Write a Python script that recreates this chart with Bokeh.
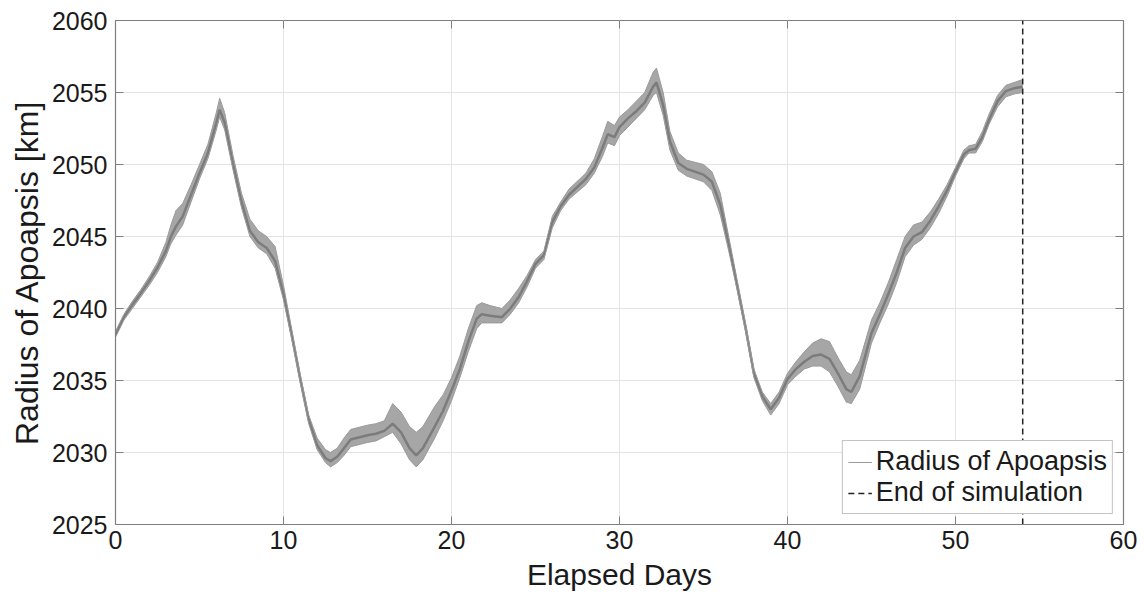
from bokeh.plotting import figure
from bokeh.models import Range1d, FixedTicker, Legend, LegendItem, LinearAxis
from bokeh.embed import file_html
from bokeh.resources import INLINE

days = [0, 0.5, 1, 1.5, 2, 2.5, 3, 3.3, 3.6, 4, 4.5, 5, 5.5, 6, 6.2, 6.5, 7, 7.5, 8, 8.5,
        9, 9.5, 10, 10.5, 11, 11.5, 12, 12.5, 12.8, 13.2, 13.6, 14, 15, 15.5, 16, 16.5, 17, 17.5, 17.9, 18.3,
        19, 19.5, 20, 20.5, 21, 21.5, 21.8, 22.3, 23, 23.5, 24, 24.5, 25, 25.5, 26, 26.5, 27, 28, 28.5, 29,
        29.3, 29.7, 30, 30.5, 31, 31.5, 32, 32.2, 32.6, 33, 33.5, 34, 35, 35.5, 36, 36.5, 37, 37.5, 38, 38.5,
        39, 39.5, 40, 40.5, 41, 41.5, 42, 42.5, 43, 43.5, 43.8, 44.3, 45, 45.5, 46, 46.5, 47, 47.5, 48, 48.5,
        49, 49.5, 50, 50.5, 50.8, 51.2, 51.6, 52, 52.5, 53, 53.5, 54]

apo_low = [2038.0, 2039.2, 2040.0, 2040.8, 2041.6, 2042.5, 2043.6, 2044.5, 2045.1, 2045.8, 2047.4, 2049.0, 2050.4, 2052.4, 2053.3, 2052.4, 2049.6, 2047.0, 2045.0, 2044.2,
           2043.8, 2042.8, 2040.6, 2037.8, 2034.8, 2032.0, 2030.2, 2029.3, 2029.0, 2029.3, 2029.8, 2030.4, 2030.7, 2030.8, 2031.1, 2031.4, 2030.6, 2029.5, 2029.0, 2029.5,
           2031.0, 2032.2, 2033.6, 2035.2, 2037.0, 2038.6, 2039.0, 2039.0, 2039.0, 2039.6, 2040.4, 2041.5, 2042.8, 2043.4, 2045.6, 2046.8, 2047.6, 2048.6, 2049.4, 2050.6,
           2051.5, 2051.3, 2052.0, 2052.6, 2053.2, 2053.8, 2054.8, 2055.0, 2053.4, 2051.0, 2049.6, 2049.2, 2048.8, 2048.2, 2046.5, 2044.0, 2041.3, 2038.4, 2035.2, 2033.6,
           2032.6, 2033.4, 2034.7, 2035.3, 2035.8, 2036.0, 2036.0, 2035.6, 2034.6, 2033.5, 2033.4, 2034.4, 2037.6, 2039.0, 2040.3, 2041.8, 2043.6, 2044.4, 2044.8, 2045.6,
           2046.6, 2047.8, 2049.2, 2050.4, 2050.8, 2050.8, 2051.6, 2052.8, 2054.0, 2054.7, 2054.9, 2055.0]

apo_high = [2038.4, 2039.6, 2040.5, 2041.3, 2042.2, 2043.2, 2044.6, 2045.8, 2046.8, 2047.3, 2048.6, 2050.0, 2051.4, 2053.6, 2054.6, 2053.6, 2050.6, 2048.0, 2046.2, 2045.4,
            2045.0, 2044.3, 2041.6, 2038.5, 2035.4, 2032.6, 2031.0, 2030.2, 2030.0, 2030.3, 2031.0, 2031.6, 2031.9, 2032.0, 2032.2, 2033.4, 2032.8, 2031.8, 2031.4, 2031.8,
            2033.2, 2034.0, 2035.2, 2036.7, 2038.6, 2040.2, 2040.4, 2040.2, 2040.0, 2040.6, 2041.4, 2042.3, 2043.4, 2044.0, 2046.4, 2047.4, 2048.3, 2049.4, 2050.4, 2052.0,
            2053.0, 2052.7, 2053.3, 2053.8, 2054.4, 2055.0, 2056.4, 2056.7, 2055.0, 2052.3, 2050.8, 2050.3, 2050.0, 2049.5, 2048.0, 2045.0, 2042.0, 2039.0, 2035.8, 2034.2,
            2033.4, 2034.2, 2035.5, 2036.3, 2037.0, 2037.6, 2037.9, 2037.7, 2036.6, 2035.6, 2035.4, 2036.4, 2039.2, 2040.4, 2041.8, 2043.4, 2045.0, 2045.8, 2046.0, 2046.7,
            2047.6, 2048.6, 2049.8, 2051.0, 2051.3, 2051.4, 2052.3, 2053.5, 2054.8, 2055.5, 2055.7, 2055.9]

apo_core = [2038.2, 2039.4, 2040.25, 2041.05, 2041.9, 2042.85, 2044.0, 2045.0, 2045.7, 2046.4, 2047.9, 2049.4, 2050.8, 2052.9, 2053.8, 2052.9, 2050.0, 2047.4, 2045.4, 2044.6,
            2044.2, 2043.3, 2041.0, 2038.1, 2035.1, 2032.3, 2030.5, 2029.6, 2029.4, 2029.7, 2030.3, 2030.9, 2031.2, 2031.3, 2031.5, 2032.0, 2031.4, 2030.3, 2029.8, 2030.3,
            2031.8, 2032.9, 2034.3, 2035.8, 2037.7, 2039.3, 2039.6, 2039.5, 2039.4, 2040.0, 2040.8, 2041.9, 2043.1, 2043.7, 2046.0, 2047.1, 2047.9, 2049.0, 2049.8, 2051.2,
            2052.1, 2051.9, 2052.6, 2053.2, 2053.7, 2054.3, 2055.4, 2055.7, 2054.1, 2051.6, 2050.1, 2049.7, 2049.3, 2048.8, 2047.2, 2044.5, 2041.6, 2038.7, 2035.5, 2033.9,
            2033.0, 2033.8, 2035.1, 2035.8, 2036.3, 2036.7, 2036.8, 2036.5, 2035.5, 2034.4, 2034.2, 2035.3, 2038.3, 2039.6, 2041.0, 2042.5, 2044.2, 2045.0, 2045.3, 2046.1,
            2047.1, 2048.2, 2049.5, 2050.7, 2051.0, 2051.1, 2051.9, 2053.1, 2054.4, 2055.1, 2055.3, 2055.4]

end_day = 54
x_ticks = [0, 10, 20, 30, 40, 50, 60]
y_ticks = [2025, 2030, 2035, 2040, 2045, 2050, 2055, 2060]

FONT = "Liberation Sans"
AX = "#7f7f7f"

p = figure(width=1144, height=608, output_backend="svg", toolbar_location=None,
           x_range=Range1d(0, 60), y_range=Range1d(2025, 2060),
           min_border_left=115, min_border_right=21, min_border_top=20, min_border_bottom=84)
p.background_fill_color = "white"
p.border_fill_color = "white"
p.outline_line_color = AX
p.outline_line_width = 1.2

for ax in (p.xaxis[0], p.yaxis[0]):
    ax.major_label_text_font = FONT
    ax.major_label_text_font_size = "25px"
    ax.major_label_text_color = "#1a1a1a"
    ax.axis_label_text_font = FONT
    ax.axis_label_text_font_style = "normal"
    ax.axis_label_text_color = "#1a1a1a"
    ax.axis_line_color = AX
    ax.major_tick_line_color = AX
    ax.major_tick_in = 8
    ax.major_tick_out = 0
    ax.minor_tick_line_color = None

p.xaxis.ticker = FixedTicker(ticks=x_ticks)
p.yaxis.ticker = FixedTicker(ticks=y_ticks)
p.xaxis.axis_label = "Elapsed Days"
p.yaxis.axis_label = "Radius of Apoapsis [km]"
p.xaxis.axis_label_text_font_size = "30px"
p.yaxis.axis_label_text_font_size = "32px"
p.xaxis.major_label_standoff = 6
p.yaxis.major_label_standoff = 8
p.xaxis.axis_label_standoff = 6
p.yaxis.axis_label_standoff = 4

# box ticks on the top and right edges (no labels)
for side, ticks in (("right", y_ticks), ("above", x_ticks)):
    a = LinearAxis(ticker=FixedTicker(ticks=ticks),
                   major_label_overrides={t: "" for t in ticks},
                   axis_line_color=None, major_tick_line_color=AX, major_tick_in=8,
                   major_tick_out=0, minor_tick_line_color=None, major_label_standoff=0,
                   major_label_text_font_size="10px")
    p.add_layout(a, side)

p.grid.grid_line_color = "#e4e4e4"
p.grid.grid_line_width = 1
p.xgrid.ticker = FixedTicker(ticks=x_ticks)
p.ygrid.ticker = FixedTicker(ticks=y_ticks)

band = p.varea(x=days, y1=apo_low, y2=apo_high, fill_color="#a6a6a6", fill_alpha=1.0)
core = p.line(days, apo_core, line_color="#7c7c7c", line_width=2.5)
edge_lo = p.line(days, apo_low, line_color="#9a9a9a", line_width=1)
edge_hi = p.line(days, apo_high, line_color="#9a9a9a", line_width=1)

legend_line = p.line([0, 0], [1000, 1000], line_color="#9a9a9a", line_width=1.2)
end_line = p.line([end_day, end_day], [y_ticks[0], y_ticks[-1]], line_color="#222222",
                  line_width=1.5, line_dash="6 4")

legend = Legend(items=[LegendItem(label="Radius of Apoapsis", renderers=[legend_line]),
                       LegendItem(label="End of simulation", renderers=[end_line])],
                location="bottom_right")
legend.label_text_font = FONT
legend.label_text_font_size = "27px"
legend.label_text_color = "#1a1a1a"
legend.border_line_color = "#888888"
legend.border_line_width = 1
legend.background_fill_alpha = 1.0
legend.padding = 5
legend.spacing = 0
legend.margin = 10
legend.glyph_width = 24
legend.glyph_height = 30
legend.label_height = 30
legend.label_standoff = 4
p.add_layout(legend)

open("out.html", "w").write(file_html(p, INLINE))
